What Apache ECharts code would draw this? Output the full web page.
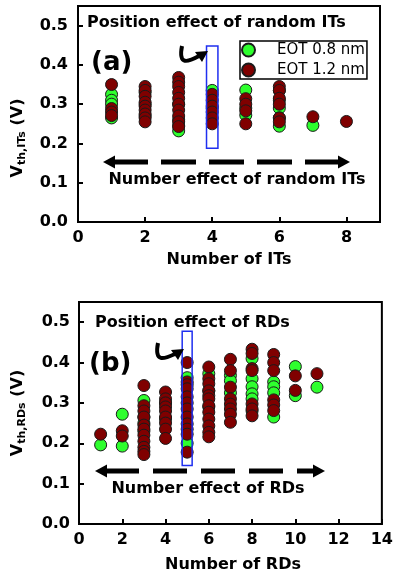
<!DOCTYPE html>
<html><head><meta charset="utf-8">
<script src="https://cdn.jsdelivr.net/npm/echarts@6/dist/echarts.min.js"></script>
<style>html,body{margin:0;padding:0;background:#fff}#c{width:396px;height:577px}</style>
</head><body><div id="c"></div>
<script>
// ---- Data: (a) random ITs ----
const itsGreen = [
  [1,0.325],[1,0.31],[1,0.30],[1,0.265],
  [2,0.33],[2,0.30],[2,0.27],
  [3,0.30],[3,0.26],[3,0.245],[3,0.232],
  [4,0.335],[4,0.29],
  [5,0.336],[5,0.29],[5,0.272],
  [6,0.335],[6,0.31],[6,0.29],[6,0.265],[6,0.244],
  [7,0.246]
];
const itsRed = [
  [1,0.35],[1,0.289],[1,0.28],[1,0.271],
  [2,0.345],[2,0.335],[2,0.32],[2,0.305],[2,0.295],[2,0.285],[2,0.275],[2,0.265],[2,0.255],
  [3,0.368],[3,0.356],[3,0.345],[3,0.33],[3,0.315],[3,0.30],[3,0.285],[3,0.27],[3,0.255],[3,0.243],
  [4,0.325],[4,0.31],[4,0.295],[4,0.28],[4,0.265],[4,0.25],
  [5,0.314],[5,0.30],[5,0.283],[5,0.25],
  [6,0.345],[6,0.335],[6,0.315],[6,0.30],[6,0.265],[6,0.255],
  [7,0.268],
  [8,0.256]
];
// ---- Data: (b) RDs ----
const rdGreen = [
  [1,0.196],
  [2,0.272],[2,0.193],
  [3,0.306],[3,0.265],[3,0.25],[3,0.23],
  [4,0.30],[4,0.26],
  [5,0.3625],[5,0.20],
  [6,0.3725],[6,0.33],[6,0.29],
  [7,0.368],[7,0.355],[7,0.325],
  [8,0.41],[8,0.36],[8,0.34],[8,0.3225],[8,0.31],[8,0.28],
  [9,0.352],[9,0.34],[9,0.325],[9,0.265],
  [10,0.39],[10,0.318],
  [11,0.339]
];
const rdRed = [
  [1,0.2225],
  [2,0.231],[2,0.218],
  [3,0.343],[3,0.293],[3,0.28],[3,0.265],[3,0.245],[3,0.235],[3,0.22],[3,0.205],[3,0.19],[3,0.18],[3,0.172],
  [4,0.327],[4,0.31],[4,0.30],[4,0.29],[4,0.28],[4,0.265],[4,0.25],[4,0.235],[4,0.212],
  [5,0.40],[5,0.352],[5,0.345],[5,0.335],[5,0.315],[5,0.30],[5,0.285],[5,0.265],[5,0.248],[5,0.235],[5,0.2225],[5,0.178],
  [6,0.389],[6,0.36],[6,0.3475],[6,0.33],[6,0.318],[6,0.31],[6,0.293],[6,0.277],[6,0.26],[6,0.243],[6,0.227],[6,0.216],
  [7,0.408],[7,0.38],[7,0.339],[7,0.31],[7,0.297],[7,0.285],[7,0.272],[7,0.252],
  [8,0.433],[8,0.4225],[8,0.385],[8,0.38],[8,0.2975],[8,0.285],[8,0.268],
  [9,0.42],[9,0.40],[9,0.38],[9,0.3075],[9,0.295],[9,0.281],
  [10,0.367],[10,0.331],
  [11,0.3725]
];
const yTicks = [0, 0.1, 0.2, 0.3, 0.4, 0.5];
const seriesNames = ['EOT 0.8 nm', 'EOT 1.2 nm'];

const F = 'DejaVu Sans';
const GREEN = '#2eff2e', RED = '#800000';
const chart = echarts.init(document.getElementById('c'));

function xAx(gi, max, margin) {
  return {
    gridIndex: gi, type: 'value', min: 0, max: max, interval: 2,
    axisLine: {show: true, onZero: false, lineStyle: {color: '#000', width: 2}},
    axisTick: {show: true, inside: true, length: 5, lineStyle: {color: '#000', width: 2}},
    axisLabel: {margin: margin, color: '#000', fontFamily: F, fontWeight: 'bold', fontSize: 16,
      formatter: v => (Math.abs(v % 2) < 1e-9 ? String(v) : '')},
    splitLine: {show: false}
  };
}
function yAx(gi, margin) {
  return {
    gridIndex: gi, type: 'value', min: 0, max: 0.55, interval: 0.1,
    axisLine: {show: true, lineStyle: {color: '#000', width: 2}},
    axisTick: {show: true, inside: true, length: 5, lineStyle: {color: '#000', width: 2}},
    axisLabel: {margin: margin, color: '#000', fontFamily: F, fontWeight: 'bold', fontSize: 16,
      formatter: v => (yTicks.some(t => Math.abs(t - v) < 1e-9) ? v.toFixed(1) : '')},
    splitLine: {show: false}
  };
}
function sc(name, data, color, gi) {
  return {
    name: name, type: 'scatter', xAxisIndex: gi, yAxisIndex: gi, data: data,
    symbolSize: 12,
    itemStyle: {color: color, borderColor: '#1a1a1a', borderWidth: 1, opacity: 1},
    emphasis: {disabled: true}
  };
}
function txt(x, y, text, size, align, weight) {
  return {type: 'text', x: x, y: y, z: 100, style: {text: text, fontFamily: F, fontSize: size,
    fontWeight: weight || 'bold', fill: '#000', align: align || 'center', verticalAlign: 'middle'}};
}
function ytitle(x, y, sub) {
  return {type: 'text', x: x, y: y, rotation: Math.PI / 2, z: 100,
    style: {text: '{v|V}{s|' + sub + '}{v| (V)}', align: 'center', verticalAlign: 'middle',
      rich: {
        v: {fontFamily: F, fontWeight: 'bold', fontSize: 16, color: '#000'},
        s: {fontFamily: F, fontWeight: 'bold', fontSize: 11, color: '#000', padding: [9, 0, 0, 0]}
      }}};
}
function dashArrow(x1, x2, y, dash) {
  const head = 12, hh = 6.5;
  return [
    {type: 'line', z: 100, shape: {x1: x1 + head - 2, y1: y, x2: x2 - head + 2, y2: y},
      style: {stroke: '#000', lineWidth: 5, lineDash: dash}},
    {type: 'polygon', z: 100, shape: {points: [[x1, y], [x1 + head, y - hh], [x1 + head, y + hh]]}, style: {fill: '#000'}},
    {type: 'polygon', z: 100, shape: {points: [[x2, y], [x2 - head, y - hh], [x2 - head, y + hh]]}, style: {fill: '#000'}}
  ];
}
function curlArrow(sx, sy, tx, ty) {
  return [
    {type: 'bezierCurve', z: 100, shape: {x1: sx, y1: sy, cpx1: sx - 4, cpy1: sy + 20, cpx2: sx + 6, cpy2: sy + 16, x2: tx - 9, y2: ty + 5},
      style: {stroke: '#000', lineWidth: 4, fill: null}},
    {type: 'polygon', z: 100, shape: {points: [[tx, ty], [tx - 13, ty + 1], [tx - 6, ty + 11]]}, style: {fill: '#000'}}
  ];
}

const option = {
  animation: false,
  backgroundColor: '#fff',
  grid: [
    {left: 78, top: 6, width: 302, height: 216, show: true, borderColor: '#000', borderWidth: 2, backgroundColor: 'transparent'},
    {left: 79, top: 302, width: 308, height: 222, show: true, borderColor: '#000', borderWidth: 2, backgroundColor: 'transparent'}
  ],
  xAxis: [xAx(0, 9, 8), xAx(1, 14, 8)],
  yAxis: [yAx(0, 10), yAx(1, 9)],
  legend: {
    data: seriesNames, orient: 'vertical', left: 240, top: 41,
    padding: [0, 2, 0, 1], itemGap: 2, itemWidth: 13, itemHeight: 13,
    borderColor: '#000', borderWidth: 1.5, backgroundColor: '#fff', selectedMode: false,
    textStyle: {fontFamily: F, fontSize: 15, color: '#000', lineHeight: 18, padding: [0, 0, 0, 17]}
  },
  series: [
    sc(seriesNames[0], itsGreen, GREEN, 0),
    sc(seriesNames[1], itsRed, RED, 0),
    sc(seriesNames[0], rdGreen, GREEN, 1),
    sc(seriesNames[1], rdRed, RED, 1)
  ]
};
chart.setOption(option);

const a1 = chart.convertToPixel({gridIndex: 0}, [3.83, 0.448]);
const a2 = chart.convertToPixel({gridIndex: 0}, [4.17, 0.188]);
const b1 = chart.convertToPixel({gridIndex: 1}, [4.77, 0.4775]);
const b2 = chart.convertToPixel({gridIndex: 1}, [5.23, 0.145]);

const g = [
  txt(229, 260, 'Number of ITs', 16),
  txt(233, 565, 'Number of RDs', 16),
  ytitle(18, 138, 'th,ITs'),
  ytitle(18, 413, 'th,RDs'),
  txt(87, 23, 'Position effect of random ITs', 16, 'left'),
  txt(91, 63, '(a)', 26, 'left'),
  txt(237, 180, 'Number effect of random ITs', 16),
  txt(95, 323, 'Position effect of RDs', 16, 'left'),
  txt(89, 364, '(b)', 26, 'left'),
  txt(208, 489, 'Number effect of RDs', 16),
  {type: 'rect', z: 90, shape: {x: a1[0], y: a1[1], width: a2[0] - a1[0], height: a2[1] - a1[1]},
    style: {stroke: '#1f2ff0', lineWidth: 1.5, fill: null}},
  {type: 'rect', z: 90, shape: {x: b1[0], y: b1[1], width: b2[0] - b1[0], height: b2[1] - b1[1]},
    style: {stroke: '#1f2ff0', lineWidth: 1.5, fill: null}}
].concat(dashArrow(103, 350, 162, [35, 13]))
 .concat(dashArrow(95, 325, 471, [34, 14]))
 .concat(curlArrow(182, 46, 208, 51))
 .concat(curlArrow(158, 343, 184, 349));

chart.setOption({graphic: g});
</script>
</body></html>
